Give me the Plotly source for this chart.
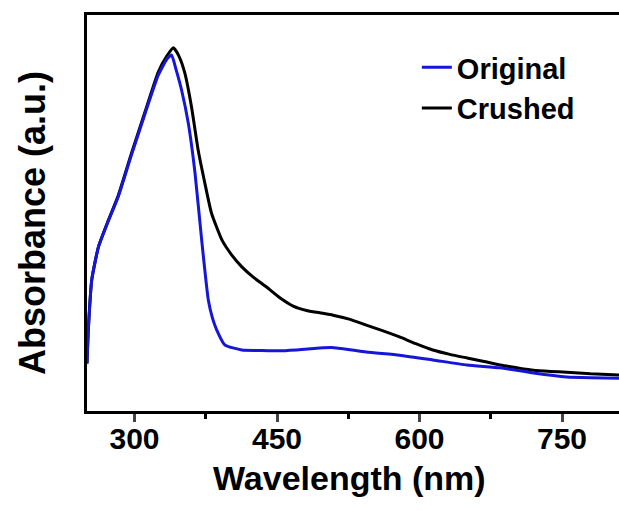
import plotly.graph_objects as go

# Crushed (black)
crushed_wl = [250, 251.4, 255, 262, 272.5, 283, 297, 311, 325, 334, 341, 347, 353, 360, 367, 374,
              381, 392, 402, 413, 425, 439, 453, 467, 481, 495, 509, 526, 544, 561, 579, 596, 614, 632, 650,
              668, 685, 703, 720, 738, 755, 780, 810]
crushed_abs = [0.12, 0.205, 0.331, 0.414, 0.482, 0.545, 0.652, 0.755, 0.856, 0.896, 0.917, 0.895,
               0.853, 0.768, 0.659, 0.576, 0.50, 0.432, 0.395, 0.364, 0.338, 0.313, 0.286, 0.265, 0.254, 0.248,
               0.242, 0.232, 0.217, 0.203, 0.187, 0.170, 0.154, 0.143, 0.134, 0.125, 0.116, 0.109, 0.103,
               0.100, 0.098, 0.094, 0.091]

# Original (blue)
original_wl = [250, 251.4, 255, 262, 272.5, 283, 297, 311, 325, 334, 339, 344, 349.6, 356.6,
               363.7, 370.7, 377.7, 382, 386.5, 395, 413, 430, 456, 480, 495, 510, 544, 579, 614, 650, 685,
               720, 755, 780, 810]
original_abs = [0.12, 0.205, 0.331, 0.414, 0.48, 0.542, 0.648, 0.75, 0.848, 0.888, 0.899, 0.86,
                0.81, 0.727, 0.601, 0.432, 0.28, 0.235, 0.205, 0.167, 0.154, 0.153, 0.152, 0.156, 0.159, 0.160,
                0.149, 0.141, 0.129, 0.116, 0.109, 0.096, 0.086, 0.084, 0.083]

x_ticks = [300, 450, 600, 750]
x_minor_ticks = [375, 525, 675]

FONT = "Liberation Sans, Arial, sans-serif"

fig = go.Figure()
fig.add_trace(go.Scatter(x=crushed_wl, y=crushed_abs, mode="lines", name="Crushed",
                         line=dict(color="#000000", width=3, shape="spline", smoothing=0.5)))
fig.add_trace(go.Scatter(x=original_wl, y=original_abs, mode="lines", name="Original",
                         line=dict(color="#1616d8", width=3, shape="spline", smoothing=0.5)))

fig.update_layout(
    width=619, height=511,
    margin=dict(l=87, r=0, t=15, b=100),
    paper_bgcolor="white", plot_bgcolor="white",
    font=dict(family=FONT, color="black", size=28, weight="bold"),
    showlegend=True,
    legend=dict(x=0.62, y=0.932, xanchor="left", yanchor="top", traceorder="reversed",
                bgcolor="rgba(0,0,0,0)", font=dict(size=29, family=FONT, weight="bold"),
                itemwidth=30, tracegroupgap=0),
    xaxis=dict(range=[250, 810], tickvals=x_ticks, ticks="outside", ticklen=8, tickwidth=3,
               showline=True, linewidth=3, linecolor="black", mirror=True, showgrid=False,
               zeroline=False, tickfont=dict(size=30, family=FONT, weight="bold"), ticklabelstandoff=-9,
               minor=dict(ticks="outside", tickvals=x_minor_ticks, ticklen=5, tickwidth=3, tickcolor="black")),
    yaxis=dict(range=[0, 1], showticklabels=False, ticks="", showline=True, linewidth=3,
               linecolor="black", mirror=False, showgrid=False, zeroline=False),
    annotations=[
        dict(text="Wavelength (nm)", xref="paper", yref="paper", x=(349 - 87) / 532, y=(411 - 478) / 396,
             xanchor="center", yanchor="middle", showarrow=False,
             font=dict(size=34, family=FONT, weight="bold", color="black")),
        dict(text="Absorbance (a.u.)", xref="paper", yref="paper", x=(32 - 87) / 532, y=(411 - 223) / 396,
             xanchor="center", yanchor="middle", textangle=-90, showarrow=False,
             font=dict(size=36, family=FONT, weight="bold", color="black")),
    ],
)

fig.write_html("out.html")
